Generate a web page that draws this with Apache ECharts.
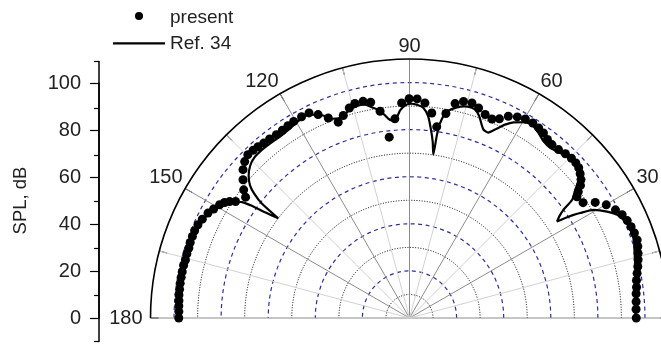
<!DOCTYPE html>
<html><head><meta charset="utf-8">
<script src="https://cdn.jsdelivr.net/npm/echarts@6/dist/echarts.min.js"></script>
<style>html,body{margin:0;padding:0;background:#fff}#c{width:661px;height:344px}</style>
</head><body><div id="c"></div>
<script>
// ---- data (angle in degrees, SPL in dB) ----
const presentAngles = [180,178.4,177,175.7,174.3,172.9,171.4,169.9,168.5,166.9,165.5,163.9,162.4,161,159.4,157.9,156.2,154.5,152.5,150.9,149.2,148,147.1,146.2,143.6,142.3,140.3,138.3,136.5,134.7,133,131.5,129.8,128,126,124.1,122.3,120.5,118.2,116.1,114.2,112.1,110,108.1,106,104.3,102.1,100.2,98.1,96.4,94.2,92.1,90.1,88,85.9,83.8,81.9,79.9,78,76,73.8,71.8,69.6,67.5,65.7,63.9,61.8,59.8,57.7,55.8,54.1,52.3,50.6,48.5,46.5,44.6,43,41.6,40.2,38.9,37.8,36.8,35.9,33.6,31.9,29.9,27.7,25.9,24.1,22.4,20.7,18.9,17.4,15.8,14.3,12.7,11.1,9.4,7.7,6.1,4.1,2.2,0];
const presentSPL = [98,98,98.1,98.2,98.4,98.4,98.5,98.5,98.5,98.5,98.3,98.4,98.3,98.5,98.5,98.5,98.2,97.5,96.5,95.2,93.9,92.6,91,88.9,86.5,89,91.9,94.7,96.5,97.6,97.4,97.1,96.7,96.5,96.2,96.3,96.6,96.9,97,97,94.7,91.7,88.5,90.5,92.8,94,94.1,93.1,88.7,77.3,84.8,91.4,93.1,93.1,91.6,87.6,82,88.2,93.1,94.8,95.1,93.9,92.2,91.5,92.8,95.4,96.9,97.8,98,97.6,97,95.8,95.3,95.5,96.2,96.6,96.6,96.1,94.9,93.6,91.9,89.5,87.8,88.5,92.9,96.4,98.8,100.4,101.3,101.8,102.1,102.2,101.6,100.9,100.2,99.4,98.5,97.7,97.3,96.8,96.5,96.3,96.3];

const refAngles = [180,176,172,168,164,160,157,155,153,151,149,147.5,146.3,145.3,144.6,143.8,142.8,142.2,141.3,140.3,138.5,136.3,134,131,128,125,122,119.5,117.4,115.2,113.1,111.1,109.5,108.1,106.5,105,103.5,102,100,98.1,96.1,95,93.9,92.6,91,89.5,88,86.2,84.7,83.5,82.5,81.7,81.5,81.2,80.2,79.2,77.5,75.5,73.5,72.3,71,69.7,68.6,67,65.3,63.7,62,59.8,57.7,55.1,52.8,50.4,47.6,45.3,43.4,41.6,39.8,38.8,37.7,36,35.1,34.2,33.2,32.7,32.2,31.6,30.4,28.3,26.4,24.1,21.8,19.2,16.1,12,7.1,3.5,0];
const refSPL = [97.8,98,98.2,98.3,98.3,98.2,98,97.3,96.3,95,93.5,91.5,89,86.5,82.5,76,70,79.5,84.5,88,91.2,93.6,94.8,95,94.8,94.7,95.2,96,96.6,95.4,93.5,90.7,90,90.5,91.6,92.4,92.8,92.7,90.8,89,85.2,84.2,84.5,88.3,90.5,91,90.6,89.4,86,80.5,75.5,70.1,78,83.1,88,89.8,91.5,92.8,93.1,92.6,90.8,88,86,85.5,88.5,91.6,94.1,96.2,97.2,95.8,94.2,93.8,94.9,96.1,96.9,96,94,91.8,89,85.4,80,77,74.9,78.6,82,85.1,90.7,95.3,98.5,100.4,101,100.9,99.5,98.1,96.7,96.2,96];

const yTicks = [0, 20, 40, 60, 80, 100];

const FONT = '"Liberation Sans", Arial, sans-serif';
const TXT = '#222';
const BLUE = '#2e2e9c';
const CLR = 'rgba(0,0,0,0)';

const presentData = presentAngles.map((a, i) => [presentSPL[i], a]);
const refData = refAngles.map((a, i) => [refSPL[i], a]);

const chart = echarts.init(document.getElementById('c'), null, {renderer: 'canvas'});
chart.setOption({
  animation: false,
  backgroundColor: '#fff',
  textStyle: {fontFamily: FONT},
  polar: [
    {center: [409.5, 318], radius: 259},
    {center: [409.5, 318], radius: [23.5, 259]}
  ],
  angleAxis: [
    {
      polarIndex: 0, type: 'value', min: 0, max: 180, interval: 15,
      startAngle: 0, endAngle: 180, clockwise: false,
      axisLine: {show: true, lineStyle: {color: '#000', width: 1.6}},
      axisTick: {show: true, inside: true, length: 8, lineStyle: {color: '#000', width: 1}},
      axisLabel: {show: true, margin: 3, fontSize: 20, color: TXT, fontFamily: FONT,
        formatter: v => (v === 180 ? '{r|180}' : (v % 30 === 0 ? String(v) : '')),
        rich: {r: {fontSize: 20, color: TXT, fontFamily: FONT, padding: [0, 5, 0, 0]}}},
      splitLine: {show: true, lineStyle: {color: ['#8c8c8c', '#d2d2d2'], width: 1}}
    },
    {
      polarIndex: 1, type: 'value', min: 0, max: 180,
      startAngle: 0, endAngle: 180, clockwise: false, show: false
    }
  ],
  radiusAxis: [
    {
      polarIndex: 0, type: 'value', min: 0, max: 110, interval: 20,
      axisLine: {show: false}, axisTick: {show: false}, axisLabel: {show: false},
      splitLine: {show: true, lineStyle: {color: [CLR, BLUE, BLUE, BLUE, BLUE, BLUE, CLR], type: [4, 3.5], width: 1.2}}
    },
    {
      polarIndex: 1, type: 'value', min: 10, max: 110, interval: 20,
      axisLine: {show: false}, axisTick: {show: false}, axisLabel: {show: false},
      splitLine: {show: true, lineStyle: {color: ['#000', '#000', '#000', '#000', '#000', CLR], type: [1, 1.6], width: 1}}
    }
  ],
  grid: [
    {left: 99, top: 83, width: 10, height: 235},
    {left: 99, top: 61.5, width: 10, height: 280}
  ],
  xAxis: [
    {gridIndex: 0, type: 'value', show: false},
    {gridIndex: 1, type: 'value', show: false}
  ],
  yAxis: [
    {
      gridIndex: 0, type: 'value', min: yTicks[0], max: yTicks[yTicks.length - 1], interval: 20,
      axisLine: {show: true, lineStyle: {color: '#000', width: 1.5}},
      axisTick: {show: true, length: 9, lineStyle: {color: '#000', width: 1.2}},
      axisLabel: {margin: 18, fontSize: 20, color: TXT, fontFamily: FONT},
      splitLine: {show: false},
      name: 'SPL, dB', nameLocation: 'middle', nameGap: 69, nameRotate: 90,
      nameTextStyle: {fontSize: 18.5, color: TXT, fontFamily: FONT}
    },
    {
      gridIndex: 1, type: 'value', min: -10, max: 110, interval: 20,
      axisLine: {show: true, lineStyle: {color: '#000', width: 1.5}},
      axisTick: {show: true, length: 5, lineStyle: {color: '#000', width: 1.2}},
      axisLabel: {show: false}, splitLine: {show: false}
    }
  ],
  legend: [
    {
      data: [{name: 'present', icon: 'circle'}], left: 135, top: 8.5, padding: 0,
      itemWidth: 8, itemHeight: 8, selectedMode: false,
      itemStyle: {opacity: 1},
      formatter: '{p|{name}}',
      textStyle: {fontSize: 19, color: TXT, fontFamily: FONT,
        rich: {p: {fontSize: 19, color: TXT, fontFamily: FONT, padding: [4, 0, 0, 22]}}}
    },
    {
      data: [{name: 'Ref. 34', icon: 'path://M0,0L52,0L52,2.2L0,2.2Z'}], left: 113, top: 33.8, padding: 0,
      itemWidth: 52, itemHeight: 9, symbolKeepAspect: true, selectedMode: false,
      textStyle: {fontSize: 19, color: TXT, fontFamily: FONT}
    }
  ],
  series: [
    {
      type: 'line', name: 'Ref. 34', coordinateSystem: 'polar', polarIndex: 0,
      data: refData, symbol: 'none', showSymbol: false, smooth: 0.2,
      lineStyle: {color: '#000', width: 2.2}, itemStyle: {color: '#000'}, z: 3
    },
    {
      type: 'scatter', name: 'present', coordinateSystem: 'polar', polarIndex: 0,
      data: presentData, symbol: 'circle', symbolSize: 9,
      itemStyle: {color: '#000', opacity: 1}, z: 4
    }
  ]
});
</script></body></html>
